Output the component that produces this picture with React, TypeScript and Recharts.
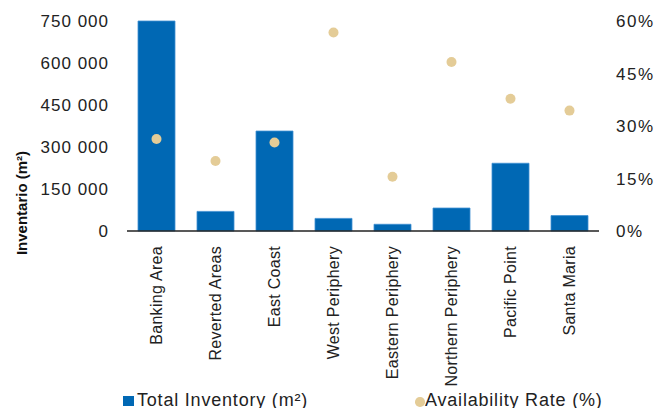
import React from 'react';
import { ComposedChart, Bar, Line, XAxis, YAxis, Legend } from 'recharts';

const categories = ['Banking Area', 'Reverted Areas', 'East Coast', 'West Periphery', 'Eastern Periphery', 'Northern Periphery', 'Pacific Point', 'Santa Maria'];
const inventory = [750000, 70000, 357000, 45000, 24000, 82000, 242000, 55000];
const availability = [26.3, 20.0, 25.3, 56.7, 15.5, 48.3, 37.8, 34.4];
const leftTicks = [0, 150000, 300000, 450000, 600000, 750000];
const rightTicks = [0, 15, 30, 45, 60];

const data = categories.map((name, i) => ({ name, inventory: inventory[i], rate: availability[i] }));

const BLUE = '#0068b4';
const GOLD = '#e4cc97';
const TEXT = '#222';
const FONT = "'Liberation Sans', Arial, sans-serif";

const fmtThousands = (v: number) => String(v).replace(/\B(?=(\d{3})+(?!\d))/g, ' ');

const XTick = (props: any) => {
  const { x, y, payload } = props;
  return (
    <g transform={`translate(${x},${y})`}>
      <text
        x={-7}
        y={0}
        dy="0.35em"
        transform="rotate(-90)"
        textAnchor="end"
        fill={TEXT}
        fontSize={16}
        fontFamily={FONT}
        style={{ letterSpacing: 0.3 }}
      >
        {payload.value}
      </text>
    </g>
  );
};

const YLabel = () => (
  <text
    x={21}
    y={203}
    transform="rotate(-90, 21, 203)"
    textAnchor="middle"
    dominantBaseline="central"
    fontFamily={FONT}
    fontSize={15}
    fontWeight="bold"
    fill="#111"
  >
    Inventario (m²)
  </text>
);

const LegendContent = () => (
  <div style={{ position: 'relative', width: 656, height: 30, fontFamily: FONT, color: TEXT }}>
    <span style={{ position: 'absolute', left: 123, top: 18, width: 11, height: 10, background: BLUE }} />
    <span style={{ position: 'absolute', left: 137, top: 12.6, fontSize: 18, lineHeight: '18px', letterSpacing: 0.8, whiteSpace: 'nowrap' }}>
      Total Inventory (m²)
    </span>
    <span style={{ position: 'absolute', left: 415, top: 19, width: 9.5, height: 9.5, borderRadius: '50%', background: GOLD }} />
    <span style={{ position: 'absolute', left: 425, top: 12.6, fontSize: 18, lineHeight: '18px', letterSpacing: 0.8, whiteSpace: 'nowrap' }}>
      Availability Rate (%)
    </span>
  </div>
);

export default function App() {
  return (
    <div style={{ position: 'absolute', left: 0, top: 0, width: 656, height: 408, background: '#fff' }}>
      <ComposedChart width={656} height={408} data={data} margin={{ top: 21, right: 0, bottom: 0, left: 0 }}>
        <XAxis
          dataKey="name"
          interval={0}
          height={147}
          tick={<XTick />}
          tickLine={false}
          axisLine={{ stroke: TEXT, strokeWidth: 1.6 }}
        />
        <YAxis
          yAxisId="left"
          width={127}
          domain={[0, 750000]}
          ticks={leftTicks}
          tickFormatter={fmtThousands}
          axisLine={false}
          tickLine={false}
          tickMargin={12}
          tick={{ fill: TEXT, fontSize: 17, fontFamily: FONT, letterSpacing: 1 }}
          label={{ content: <YLabel /> }}
        />
        <YAxis
          yAxisId="right"
          orientation="right"
          width={57}
          domain={[0, 60]}
          ticks={rightTicks}
          tickFormatter={(v: number) => `${v}%`}
          axisLine={false}
          tickLine={false}
          tickMargin={11}
          tick={{ fill: TEXT, fontSize: 17, fontFamily: FONT, letterSpacing: 1.5 }}
        />
        <Legend
          verticalAlign="bottom"
          height={30}
          content={<LegendContent />}
          wrapperStyle={{ left: 0, width: 656, height: 30 }}
        />
        <Bar
          yAxisId="left"
          dataKey="inventory"
          fill={BLUE}
          stroke="#3f8fd2"
          strokeWidth={0.8}
          barSize={37}
          isAnimationActive={false}
        />
        <Line
          yAxisId="right"
          dataKey="rate"
          stroke="none"
          dot={{ r: 5, fill: GOLD, stroke: 'none' }}
          activeDot={false}
          isAnimationActive={false}
        />
      </ComposedChart>
    </div>
  );
}
